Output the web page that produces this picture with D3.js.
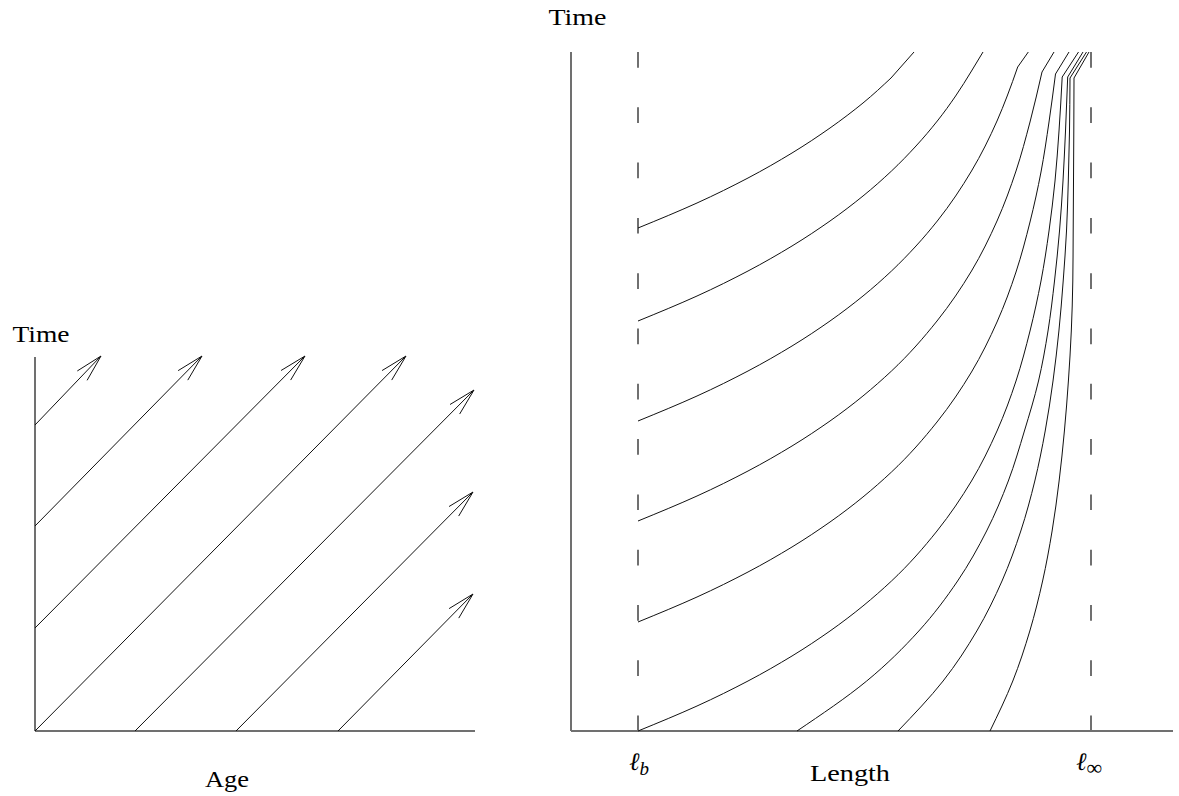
<!DOCTYPE html>
<html>
<head>
<meta charset="utf-8">
<script src="https://cdn.jsdelivr.net/npm/d3@7"></script>
<style>
body { margin: 0; background: #fff; }
text { font-family: "Liberation Serif", "Times New Roman", Times, serif; fill: #000; }
</style>
</head>
<body>
<script>
// Lexis-type diagrams: age vs time (left), length vs time (right)

var w = 1179, h = 796;

// left panel: cohort lines, start and end as (age, time)
var startAge  = [0, 0, 0, 0, 1.00, 2.01, 3.03];
var startTime = [3.06, 2.05, 1.03, 0, 0, 0, 0];
var endAge    = [0.66, 1.67, 2.70, 3.71, 4.39, 4.38, 4.38];
var endTime   = [3.75, 3.75, 3.75, 3.75, 3.41, 2.39, 1.37];

// right panel: growth of each cohort, [length, time]; last point is where it leaves the top
var lb = 6.7, linf = 52.0;
var cohortA = [[6.7,5.03],[12.6,5.28],[17.7,5.53],[22.1,5.78],[25.9,6.03],[29.2,6.28],[32.0,6.53],[34.3,6.79]];
var cohortB = [[6.7,4.10],[12.6,4.35],[17.7,4.60],[22.1,4.85],[25.9,5.10],[29.2,5.35],[32.05,5.60],[34.5,5.85],[36.63,6.10],[38.46,6.35],[40.05,6.60],[41.2,6.79]];
var cohortC = [[6.7,3.10],[12.6,3.35],[17.7,3.60],[22.1,3.85],[25.9,4.10],[29.2,4.35],[32.05,4.60],[34.5,4.85],[36.63,5.10],[40.05,5.60],[42.6,6.10],[43.62,6.35],[44.67,6.64],[45.73,6.79]];
var cohortD = [[6.7,2.10],[12.6,2.35],[17.7,2.60],[22.1,2.85],[25.9,3.10],[32.05,3.60],[36.6,4.10],[40.05,4.60],[42.6,5.10],[44.5,5.60],[45.9,6.09],[47.1,6.59],[48.3,6.79]];
var cohortE = [[6.7,1.09],[12.6,1.34],[17.7,1.59],[22.1,1.84],[25.9,2.09],[32.05,2.59],[36.6,3.09],[40.05,3.59],[42.6,4.09],[44.5,4.59],[45.9,5.09],[47.0,5.59],[47.8,6.09],[48.45,6.57],[49.8,6.79]];
var cohortF = [[6.7,0],[12.6,0.25],[17.7,0.50],[22.1,0.75],[25.9,1.00],[32.05,1.50],[36.6,2.00],[40.05,2.50],[42.6,3.00],[44.5,3.50],[45.9,4.00],[47.0,4.50],[47.8,5.00],[48.4,5.50],[48.8,6.00],[49.12,6.54],[50.75,6.79]];
var cohortG = [[22.6,0],[29.57,0.5],[34.78,1.0],[38.66,1.5],[41.56,2.0],[43.73,2.5],[45.34,3.0],[46.75,3.5],[47.7,4.0],[48.35,4.5],[48.85,5.0],[49.2,5.5],[49.45,6.0],[49.67,6.54],[51.2,6.79]];
var cohortH = [[32.7,0],[37.21,0.5],[40.58,1.0],[43.1,1.5],[44.98,2.0],[46.38,2.5],[47.42,3.0],[48.2,3.5],[48.79,4.0],[49.22,4.5],[49.55,5.0],[49.73,5.5],[49.85,6.0],[49.9,6.53],[51.55,6.79]];
var cohortI = [[41.9,0],[44.18,0.5],[45.88,1.0],[47.16,1.5],[48.11,2.0],[48.81,2.5],[49.34,3.0],[49.74,3.5],[50.03,4.0],[50.18,4.5],[50.22,5.0],[50.25,5.5],[50.28,6.0],[50.3,6.53],[51.8,6.79]];
var cohorts = [cohortA, cohortB, cohortC, cohortD, cohortE, cohortF, cohortG, cohortH, cohortI];

var axisColor = '#707070';

var svg = d3.select('body').append('svg')
	.attr('width', w)
	.attr('height', h);

// ---------- left panel ----------
var ageX = d3.scaleLinear().domain([0, 4.4]).range([35, 475]);
var timeY = d3.scaleLinear().domain([0, 3.74]).range([731, 357]);

var left = svg.append('g');

left.append('g')
	.attr('transform', 'translate(0,' + timeY(0) + ')')
	.call(d3.axisBottom(ageX).tickValues([]).tickSizeOuter(0).offset(0));
left.append('g')
	.attr('transform', 'translate(' + ageX(0) + ',0)')
	.call(d3.axisLeft(timeY).tickValues([]).tickSizeOuter(0).offset(0));

var headLen = 28, headAng = 14 * Math.PI / 180;

var arrows = d3.range(startAge.length).map(function(i) {
	var x1 = ageX(startAge[i]), y1 = timeY(startTime[i]),
		x2 = ageX(endAge[i]), y2 = timeY(endTime[i]);
	var back = Math.atan2(y1 - y2, x1 - x2);
	return { x1: x1, y1: y1, x2: x2, y2: y2,
		ax: x2 + headLen * Math.cos(back + headAng), ay: y2 + headLen * Math.sin(back + headAng),
		bx: x2 + headLen * Math.cos(back - headAng), by: y2 + headLen * Math.sin(back - headAng) };
});

left.selectAll('line.cohort')
		.data(arrows)
	.enter().append('line')
		.attr('class', 'cohort')
		.attr('x1', function(d) { return d.x1; })
		.attr('y1', function(d) { return d.y1; })
		.attr('x2', function(d) { return d.x2; })
		.attr('y2', function(d) { return d.y2; })
		.attr('stroke', '#111')
		.attr('stroke-width', 1);

left.selectAll('path.head')
		.data(arrows)
	.enter().append('path')
		.attr('class', 'head')
		.attr('d', function(d) {
			return 'M' + d.ax + ',' + d.ay + 'L' + d.x2 + ',' + d.y2 + 'L' + d.bx + ',' + d.by;
		})
		.attr('fill', 'none')
		.attr('stroke', '#111')
		.attr('stroke-width', 1);

left.append('text')
	.attr('x', 12.5).attr('y', 342)
	.attr('font-size', 24)
	.attr('textLength', 57).attr('lengthAdjust', 'spacingAndGlyphs')
	.text('Time');
left.append('text')
	.attr('x', 205).attr('y', 787)
	.attr('font-size', 24)
	.attr('textLength', 44).attr('lengthAdjust', 'spacingAndGlyphs')
	.text('Age');

// ---------- right panel ----------
var lenX = d3.scaleLinear().domain([0, 60.2]).range([571, 1173]);
var timeY2 = d3.scaleLinear().domain([0, 6.79]).range([731, 52]);

var right = svg.append('g');

right.append('g')
	.attr('transform', 'translate(0,' + timeY2(0) + ')')
	.call(d3.axisBottom(lenX).tickValues([]).tickSizeOuter(0).offset(0));
right.append('g')
	.attr('transform', 'translate(' + lenX(0) + ',0)')
	.call(d3.axisLeft(timeY2).tickValues([]).tickSizeOuter(0).offset(0));

// dashed guides at birth length and asymptotic length
right.selectAll('line.guide')
		.data([lb, linf])
	.enter().append('line')
		.attr('class', 'guide')
		.attr('x1', function(d) { return lenX(d); })
		.attr('x2', function(d) { return lenX(d); })
		.attr('y1', timeY2(6.79))
		.attr('y2', timeY2(0))
		.attr('stroke', axisColor)
		.attr('stroke-width', 2)
		.attr('stroke-dasharray', '15.7,39.6');

var smooth = d3.line()
	.x(function(d) { return lenX(d[0]); })
	.y(function(d) { return timeY2(d[1]); })
	.curve(d3.curveMonotoneY);
var straight = d3.line()
	.x(function(d) { return lenX(d[0]); })
	.y(function(d) { return timeY2(d[1]); });

right.selectAll('path.growth')
		.data(cohorts)
	.enter().append('path')
		.attr('class', 'growth')
		.attr('d', function(d) {
			return smooth(d.slice(0, -1)) + straight(d.slice(-2));
		})
		.attr('fill', 'none')
		.attr('stroke', '#111')
		.attr('stroke-width', 1);

right.append('text')
	.attr('x', 548.5).attr('y', 25)
	.attr('font-size', 24)
	.attr('textLength', 58).attr('lengthAdjust', 'spacingAndGlyphs')
	.text('Time');
right.append('text')
	.attr('x', 810).attr('y', 781)
	.attr('font-size', 24)
	.attr('textLength', 80).attr('lengthAdjust', 'spacingAndGlyphs')
	.text('Length');

// subscripted l labels under the guides
var lLabels = [{ v: lb, sub: 'b', dx: -9 }, { v: linf, sub: '\u221E', dx: -15 }];
var lt = right.selectAll('text.ell')
		.data(lLabels)
	.enter().append('text')
		.attr('class', 'ell')
		.attr('x', function(d) { return lenX(d.v) + d.dx; })
		.attr('y', 770)
		.attr('font-size', 25);
lt.append('tspan')
	.attr('font-style', 'italic')
	.text('\u2113');
lt.append('tspan')
	.attr('dy', 5)
	.attr('font-size', function(d) { return d.sub == 'b' ? 19 : 22; })
	.attr('font-style', function(d) { return d.sub == 'b' ? 'italic' : 'normal'; })
	.text(function(d) { return d.sub; });

svg.selectAll('.domain')
	.attr('stroke', axisColor)
	.attr('stroke-width', 2);
</script>
</body>
</html>
